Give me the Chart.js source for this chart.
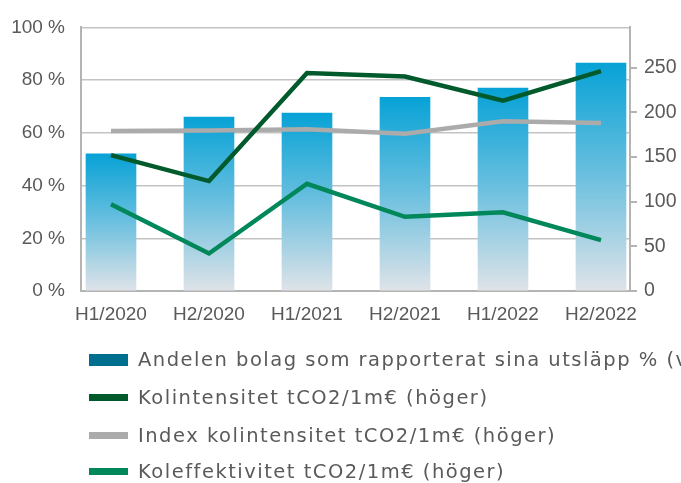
<!DOCTYPE html>
<html>
<head>
<meta charset="utf-8">
<script src="https://cdn.jsdelivr.net/npm/chart.js@4"></script>
<style>
  body { margin: 0; background: #fff; }
  #wrap { width: 681px; height: 483px; }
</style>
</head>
<body>
<div id="wrap"><canvas id="chart"></canvas></div>
<script>
var periods = ['H1/2020', 'H2/2020', 'H1/2021', 'H2/2021', 'H1/2022', 'H2/2022']
var andelen = [52, 66, 67.5, 73.5, 77, 86.5] // % (vänster)
var kolintensitet = [152, 123, 244, 240, 213, 246]
var indexKolintensitet = [179, 179.5, 181, 176, 190, 188]
var koleffektivitet = [97, 42, 120, 83, 88, 57]
var leftTicks = [0, 20, 40, 60, 80, 100]
var rightTicks = [0, 50, 100, 150, 200, 250]

var labels = [
  'Andelen bolag som rapporterat sina utsläpp % (vänster)',
  'Kolintensitet tCO2/1m€ (höger)',
  'Index kolintensitet tCO2/1m€ (höger)',
  'Koleffektivitet tCO2/1m€ (höger)'
]

function points(arr) {
  return arr.map(function (v, i) { return { x: i, y: v } })
}

var axisGray = '#b4b4b4'
var textGray = '#595959'

// simple legend drawn below the plot, one item per row
var rowLegend = {
  id: 'rowLegend',
  afterDraw: function (chart) {
    var ctx = chart.ctx
    var swatch = ['#006f8e', '#005a2b', '#ababab', '#00875a']
    var rows = [360, 397.5, 435.5, 471.5]
    ctx.save()
    ctx.font = '19.5px "DejaVu Sans"'
    ctx.letterSpacing = '1.5px'
    ctx.textBaseline = 'middle'
    chart.data.datasets.forEach(function (ds, i) {
      var h = i === 0 ? 12 : 7
      ctx.fillStyle = swatch[i]
      ctx.fillRect(89, rows[i] - h / 2, 39, h)
      ctx.fillStyle = '#5a5a5a'
      ctx.fillText(ds.label, 138, rows[i] + 1)
    })
    ctx.restore()
  }
}

function createChart() {
  var el = document.getElementById('chart')
  new Chart(el, {
    type: 'bar',
    data: {
      datasets: [
        {
          label: labels[0],
          data: points(andelen),
          yAxisID: 'y',
          order: 5,
          barThickness: 50,
          backgroundColor: function (c) {
            var chart = c.chart
            if (!chart.chartArea || c.type !== 'data') return '#0aa5d8'
            var y = chart.scales.y
            var top = y.getPixelForValue(c.raw.y)
            var bottom = y.getPixelForValue(0)
            var g = chart.ctx.createLinearGradient(0, top, 0, bottom)
            g.addColorStop(0, '#07a2d6')
            g.addColorStop(0.5, '#6cc0df')
            g.addColorStop(1, '#dfe3e8')
            return g
          }
        },
        {
          type: 'line',
          label: labels[1],
          data: points(kolintensitet),
          yAxisID: 'y2',
          order: 2,
          borderColor: '#005a2b',
          borderWidth: 4.5,
          pointRadius: 0,
          tension: 0
        },
        {
          type: 'line',
          label: labels[2],
          data: points(indexKolintensitet),
          yAxisID: 'y2',
          order: 3,
          borderColor: '#ababab',
          borderWidth: 4.5,
          pointRadius: 0,
          tension: 0
        },
        {
          type: 'line',
          label: labels[3],
          data: points(koleffektivitet),
          yAxisID: 'y2',
          order: 1,
          borderColor: '#00875a',
          borderWidth: 4.5,
          pointRadius: 0,
          tension: 0
        }
      ]
    },
    options: {
      responsive: true,
      maintainAspectRatio: false,
      animation: false,
      layout: { padding: { top: 22, left: 0, right: 0, bottom: 0 } },
      scales: {
        x: {
          type: 'linear',
          offset: false,
          min: -0.306,
          max: 5.296,
          afterBuildTicks: function (s) {
            s.ticks = periods.map(function (p, i) { return { value: i } })
          },
          afterFit: function (s) { s.height = 192 },
          ticks: {
            callback: function (v) { return periods[v] },
            autoSkip: false,
            maxRotation: 0,
            padding: 4,
            color: textGray,
            font: { family: 'Liberation Sans', size: 19 }
          },
          grid: { display: false },
          border: { display: true, color: axisGray, width: 2 }
        },
        y: {
          position: 'left',
          min: 0,
          max: 100,
          afterBuildTicks: function (s) {
            s.ticks = leftTicks.map(function (v) { return { value: v } })
          },
          afterFit: function (s) { s.width = 81 },
          ticks: {
            callback: function (v) { return v + ' %' },
            padding: 16,
            color: textGray,
            font: { family: 'Liberation Sans', size: 19 }
          },
          grid: { color: '#c3c3c3', lineWidth: 1.5, drawTicks: false },
          border: { display: true, color: axisGray, width: 2 }
        },
        y2: {
          position: 'right',
          min: 0,
          max: 295,
          afterBuildTicks: function (s) {
            s.ticks = rightTicks.map(function (v) { return { value: v } })
          },
          afterFit: function (s) { s.width = 51 },
          ticks: {
            padding: 7,
            color: textGray,
            font: { family: 'Liberation Sans', size: 19.5 }
          },
          grid: { drawOnChartArea: false, drawTicks: true, tickLength: 7, color: axisGray, lineWidth: 2 },
          border: { display: true, color: axisGray, width: 2 }
        }
      },
      plugins: {
        legend: { display: false },
        tooltip: { enabled: false }
      }
    },
    plugins: [rowLegend]
  })
}

window.onload = function () {
  createChart()
}
</script>
</body>
</html>
